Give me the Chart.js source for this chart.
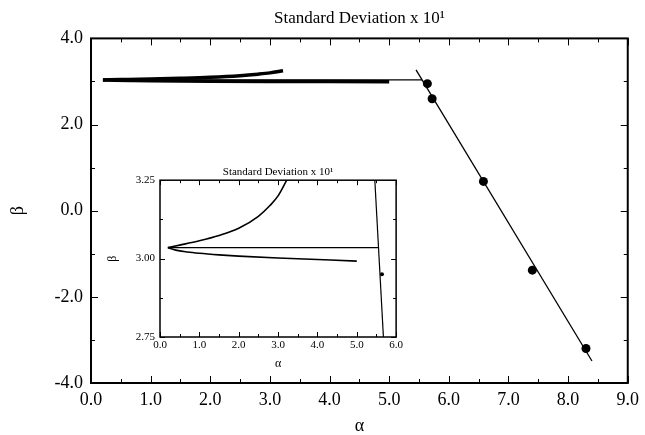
<!DOCTYPE html>
<html>
<head>
<meta charset="utf-8">
<script src="https://cdn.jsdelivr.net/npm/chart.js@4/dist/chart.umd.min.js"></script>
<style>
  body { margin: 0; background: #fff; }
  #wrap { position: relative; width: 645px; height: 435px; }
  #mainChart { position: absolute; left: 0; top: 0; }
  #insetChart { position: absolute; left: 100px; top: 163px; background: #fff; }
</style>
</head>
<body>
<div id="wrap">
  <canvas id="mainChart" width="645" height="435"></canvas>
  <canvas id="insetChart" width="305" height="210"></canvas>
</div>
<script>
// values
const upperAlpha = [0.2, 0.5, 1.0, 1.5, 2.0, 2.5, 2.8, 3.0, 3.22];
const upperBeta = [3.035, 3.043, 3.057, 3.074, 3.097, 3.135, 3.170, 3.200, 3.25];
const lowerAlpha = [0.2, 0.4, 0.7, 1.0, 1.5, 2.0, 3.0, 4.0, 5.0];
const lowerBeta = [3.035, 3.027, 3.021, 3.017, 3.012, 3.008, 3.002, 2.997, 2.992];
const plateauAlpha = [0.2, 5.55];
const plateauBeta = [3.035, 3.035];
const fitAlpha = [5.45, 8.40];
const fitBeta = [3.27, -3.49];
const pointAlpha = [5.64, 5.72, 6.58, 7.40, 8.30];
const pointBeta = [2.95, 2.60, 0.68, -1.38, -3.20];

const titleText = "Standard Deviation x 10\u00B9";

Chart.defaults.font.family = "'Liberation Serif', 'Times New Roman', serif";
Chart.defaults.color = "#000";

function pairs(xs, ys) {
    return xs.map((x, i) => ({ x: x, y: ys[i] }));
}

// frame round the plot + inward ticks on all four sides
const frameTicks = {
    id: "frameTicks",
    afterLayout(chart) {
        // centre the title over the plot area
        if (chart.titleBlock) {
            chart.titleBlock.left = chart.chartArea.left;
            chart.titleBlock.right = chart.chartArea.right;
        }
    },
    afterDraw(chart, args, o) {
        const { ctx, chartArea: a, scales: { x, y } } = chart;
        ctx.save();
        ctx.strokeStyle = "#000";
        ctx.lineWidth = o.frame;
        ctx.strokeRect(a.left, a.top, a.right - a.left, a.bottom - a.top);
        ctx.lineWidth = 1;
        ctx.beginPath();
        const isMajor = (v, step) => Math.abs(v / step - Math.round(v / step)) < 1e-6;
        for (let v = x.min; v <= x.max + 1e-9; v += o.xMinor) {
            const px = Math.round(x.getPixelForValue(v)) + 0.5;
            const len = isMajor(v, o.xMajor) ? o.major : o.minor;
            ctx.moveTo(px, a.bottom); ctx.lineTo(px, a.bottom - len);
            ctx.moveTo(px, a.top); ctx.lineTo(px, a.top + len);
        }
        for (let v = y.min; v <= y.max + 1e-9; v += o.yMinor) {
            const py = Math.round(y.getPixelForValue(v)) + 0.5;
            const len = isMajor(v - y.min, o.yMajor) ? o.major : o.minor;
            ctx.moveTo(a.left, py); ctx.lineTo(a.left + len, py);
            ctx.moveTo(a.right, py); ctx.lineTo(a.right - len, py);
        }
        ctx.stroke();
        ctx.restore();
    }
};

function buildDatasets(curveWidth, lineWidth, dotRadius) {
    return [
        { data: pairs(upperAlpha, upperBeta), showLine: true, pointRadius: 0,
          borderColor: "#000", borderWidth: curveWidth, cubicInterpolationMode: "monotone" },
        { data: pairs(lowerAlpha, lowerBeta), showLine: true, pointRadius: 0,
          borderColor: "#000", borderWidth: curveWidth, cubicInterpolationMode: "monotone" },
        { data: pairs(plateauAlpha, plateauBeta), showLine: true, pointRadius: 0,
          borderColor: "#000", borderWidth: lineWidth },
        { data: pairs(fitAlpha, fitBeta), showLine: true, pointRadius: 0,
          borderColor: "#000", borderWidth: lineWidth },
        { data: pairs(pointAlpha, pointBeta), showLine: false, pointRadius: dotRadius,
          pointBackgroundColor: "#000", pointBorderColor: "#000", pointBorderWidth: 0 }
    ];
}

new Chart(document.getElementById("mainChart"), {
    type: "scatter",
    data: { datasets: buildDatasets(3.5, 1.3, 4.5) },
    plugins: [frameTicks],
    options: {
        responsive: false,
        animation: false,
        layout: { padding: { top: 2, right: 13, left: 0, bottom: 0 } },
        plugins: {
            legend: { display: false },
            tooltip: { enabled: false },
            title: {
                display: true,
                text: titleText,
                font: { size: 17, weight: "normal" },
                padding: { top: 6, bottom: 10 }
            },
            frameTicks: { frame: 2, major: 7, minor: 4, xMajor: 1, xMinor: 0.5, yMajor: 2, yMinor: 1 }
        },
        scales: {
            x: {
                type: "linear", min: 0, max: 9,
                grid: { display: false, drawTicks: false },
                border: { display: false },
                ticks: { stepSize: 1, padding: 6, font: { size: 18 }, callback: v => v.toFixed(1) },
                title: { display: true, text: "\u03B1", font: { size: 18, lineHeight: 1 }, padding: { top: 0, bottom: 0 } },
                afterFit: s => { s.height = 52; }
            },
            y: {
                type: "linear", min: -4, max: 4,
                grid: { display: false, drawTicks: false },
                border: { display: false },
                ticks: { stepSize: 2, padding: 8, font: { size: 18 }, callback: v => v.toFixed(1) },
                title: { display: true, text: "\u03B2", font: { size: 18, lineHeight: 1 }, padding: { top: 9, bottom: 0 } },
                afterFit: s => { s.width = 91; }
            }
        }
    }
});

new Chart(document.getElementById("insetChart"), {
    type: "scatter",
    data: { datasets: buildDatasets(1.6, 1.2, 2) },
    plugins: [frameTicks],
    options: {
        responsive: false,
        animation: false,
        layout: { padding: { top: 1, right: 7, left: 0, bottom: 0 } },
        plugins: {
            legend: { display: false },
            tooltip: { enabled: false },
            title: {
                display: true,
                text: titleText,
                font: { size: 11, weight: "normal" },
                padding: { top: 2, bottom: 1 }
            },
            frameTicks: { frame: 1.5, major: 5, minor: 3, xMajor: 1, xMinor: 0.5, yMajor: 0.25, yMinor: 0.125 }
        },
        scales: {
            x: {
                type: "linear", min: 0, max: 6,
                grid: { display: false, drawTicks: false },
                border: { display: false },
                ticks: { stepSize: 1, padding: 2, font: { size: 11 }, callback: v => v.toFixed(1) },
                title: { display: true, text: "\u03B1", font: { size: 12, lineHeight: 1 }, padding: { top: 0, bottom: 3 } },
                afterFit: s => { s.height = 36; }
            },
            y: {
                type: "linear", min: 2.75, max: 3.25,
                grid: { display: false, drawTicks: false },
                border: { display: false },
                ticks: { stepSize: 0.25, padding: 5, font: { size: 11 }, callback: v => v.toFixed(2) },
                title: { display: true, text: "\u03B2", font: { size: 12, lineHeight: 1 }, padding: { top: 7, bottom: 0 } },
                afterFit: s => { s.width = 60; }
            }
        }
    }
});
</script>
</body>
</html>
